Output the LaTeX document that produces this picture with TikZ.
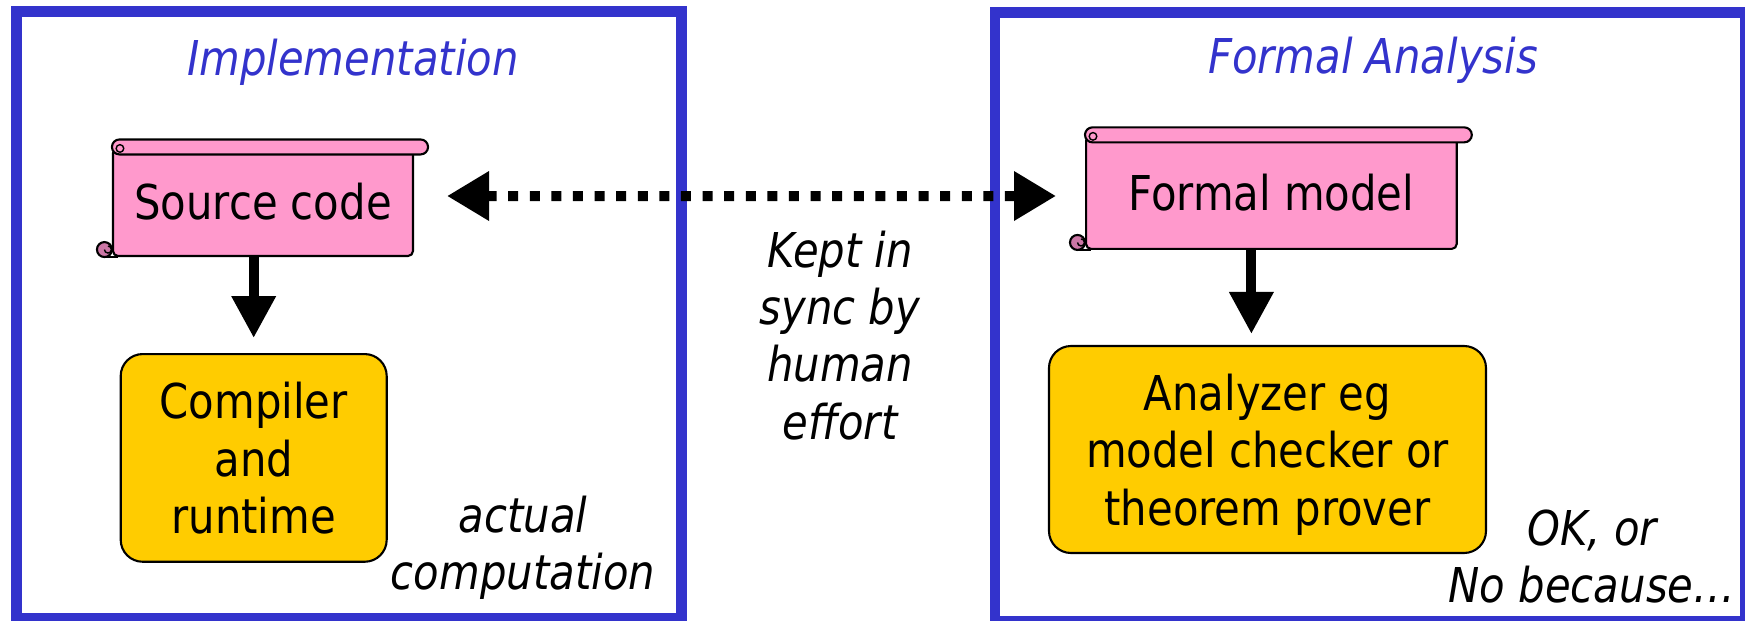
\documentclass[tikz,border=0pt]{standalone}
\usepackage{fontspec}
\setmainfont{DejaVu Sans}[FakeStretch=0.87]
\usetikzlibrary{arrows.meta}
\definecolor{frameblue}{HTML}{3333CC}
\definecolor{scrollpink}{HTML}{FF99CC}
\definecolor{curlpink}{HTML}{CC77A6}
\definecolor{boxyellow}{HTML}{FFCC00}
\begin{document}
\begin{tikzpicture}[font=\fontsize{13.66}{16.3}\selectfont,
  frame/.style={draw=frameblue,line width=0.107cm},
  title/.style={anchor=base,inner sep=0,text=frameblue,font=\fontsize{13.66}{16.3}\selectfont\itshape},
  note/.style={inner sep=0,align=center,font=\fontsize{13.66}{16.3}\selectfont\itshape},
  scrollbody/.style={draw,fill=scrollpink,line width=0.6pt,rounded corners=0.05cm,inner sep=0},
  tool/.style={draw,fill=boxyellow,line width=0.6pt,rounded corners=0.22cm,align=center,inner sep=0,text depth=0pt},
  flow/.style={line width=0.1cm,-{Triangle[length=0.42cm,width=0.42cm]}},
  sync/.style={line width=0.1cm,dash pattern=on 0.1cm off 0.116cm,
    {Triangle[length=0.42cm,width=0.47cm]}-{Triangle[length=0.42cm,width=0.47cm]}}]
  \useasboundingbox (0,0) rectangle (17.45,-6.2);
  \def\scroll#1{%
    \draw[fill=scrollpink,line width=0.6pt,rounded corners=0.075cm]
      ([yshift=0.075cm]#1.north west) rectangle ([xshift=0.14cm,yshift=-0.075cm]#1.north east);
    \draw[fill=scrollpink,line width=0.4pt] ([xshift=0.08cm,yshift=-0.015cm]#1.north west) circle (0.038cm);
    \draw[line width=0.6pt] ([xshift=-0.075cm]#1.south west) -- ([xshift=0.06cm]#1.south west);
    \draw[fill=curlpink,line width=0.6pt] ([shift={(-0.075cm,0.075cm)}]#1.south west) circle (0.075cm);
    \draw[line width=0.4pt] ([shift={(-0.075cm,0.075cm)}]#1.south west) arc (180:450:0.035cm);}
  \draw[frame] (0.165,-0.117) rectangle (6.813,-6.185);
  \draw[frame] (9.95,-0.125) rectangle (17.453,-6.21);
  \node[title] (implT) at (3.53,-0.757) {Implementation};
  \node[title] (formT) at (13.73,-0.735) {Formal Analysis};
  \node[scrollbody,minimum width=3.0cm,minimum height=1.08cm] (src) at (2.63,-2.02) {Source code};
  \scroll{src}
  \node[scrollbody,minimum width=3.707cm,minimum height=1.13cm] (fm) at (12.714,-1.924) {Formal model};
  \scroll{fm}
  \node[tool,minimum width=2.66cm,minimum height=2.077cm] (cmp) at (2.537,-4.579) {Compiler\\and\\runtime};
  \node[tool,minimum width=4.37cm,minimum height=2.07cm] (ana) at (12.675,-4.495) {Analyzer eg\\model checker or\\theorem prover};
  \draw[flow,shorten >=0.15cm] (src.south -| cmp.north) -- (cmp.north);
  \draw[flow,shorten >=0.11cm] ([xshift=-0.2cm]fm.south) -- ([xshift=-0.2cm]fm.south |- ana.north);
  \draw[sync] ([xshift=0.33cm,yshift=0.06cm]src.east) -- ([xshift=-0.29cm,yshift=-0.036cm]fm.west);
  \node[note] (kept) at (8.40,-3.352) {Kept in\\sync by\\human\\effort};
  \node[note,anchor=north] (actual) at (5.23,-4.954) {actual\\computation};
  \node[note,anchor=north] (verdict) at (15.92,-5.093) {OK, or\\No because…};
\end{tikzpicture}
\end{document}
